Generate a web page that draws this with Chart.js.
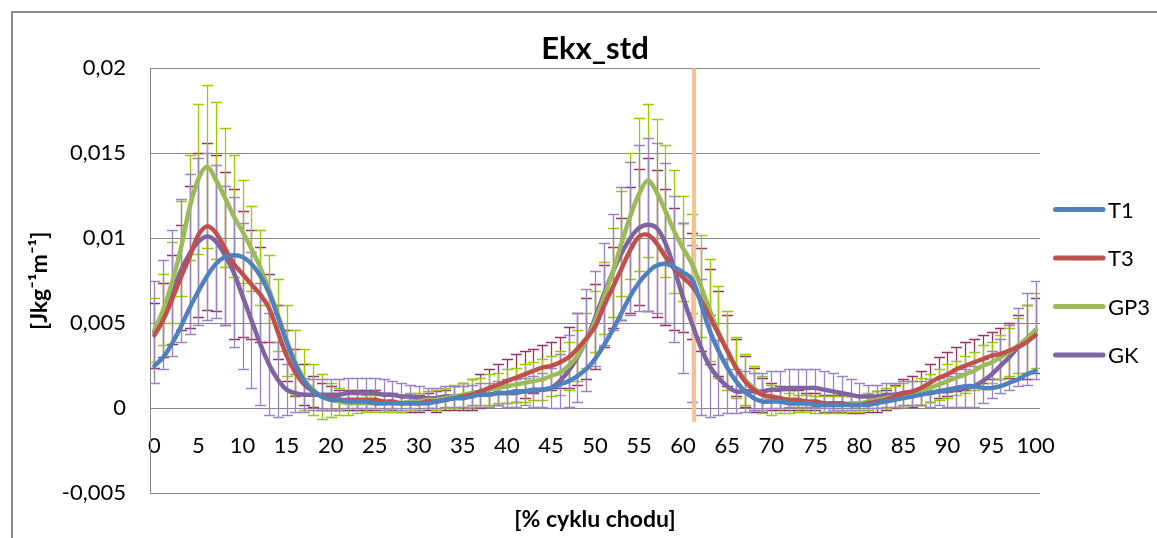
<!DOCTYPE html>
<html>
<head>
<meta charset="utf-8">
<script src="https://cdn.jsdelivr.net/npm/chart.js@4.4.0/dist/chart.umd.min.js"></script>
<style>
  html, body { margin: 0; padding: 0; background: #fff; overflow: hidden; }
  #wrap { position: relative; width: 1157px; height: 538px; overflow: hidden; }
  #frame { position: absolute; left: 11px; top: 11px; width: 1200px; height: 600px;
           border-left: 2px solid #8a8a8a; border-top: 2px solid #8a8a8a; }
  canvas { position: absolute; left: 0; top: 0; }
</style>
</head>
<body>
<div id="wrap"><div id="frame"></div><canvas id="chart" width="1157" height="538"></canvas></div>
<script>
// % of gait cycle, one point per percent
const categories = Array.from({ length: 101 }, (_, i) => i);
const xTicks = [0, 5, 10, 15, 20, 25, 30, 35, 40, 45, 50, 55, 60, 65, 70, 75, 80, 85, 90, 95, 100];
const yTicks = [-0.005, 0, 0.005, 0.01, 0.015, 0.02];

const t1 = [
  .0025, .0030, .0038, .0048, .0059, .0069, .0078, .0085, .0089, .0090,
  .0089, .0085, .0078, .0068, .0054, .0039, .0026, .0016, .0010, .0007,
  .0005, .0005, .0004, .0004, .0004, .0003, .0003, .0003, .0003, .0003,
  .0003, .0003, .0004, .0005, .0006, .0006, .0007, .0008, .0008, .0009,
  .0009, .0010, .0010, .0011, .0011, .0012, .0014, .0016, .0019, .0023,
  .0029, .0037, .0046, .0056, .0066, .0074, .0080, .0084, .0085, .0083,
  .0080, .0076, .0062, .0046, .0034, .0024, .0016, .0010, .0006, .0004,
  .0004, .0004, .0003, .0003, .0003, .0002, .0002, .0002, .0002, .0002,
  .0002, .0002, .0003, .0004, .0005, .0006, .0007, .0008, .0009, .0010,
  .0011, .0012, .0013, .0013, .0012, .0012, .0013, .0015, .0017, .0020,
  .0022
];
const t3 = [
  .0043, .0052, .0064, .0077, .0089, .0102, .0107, .0103, .0094, .0085,
  .0079, .0073, .0067, .0059, .0045, .0031, .0021, .0014, .0010, .0007,
  .0006, .0005, .0005, .0005, .0005, .0005, .0004, .0004, .0003, .0003,
  .0003, .0004, .0004, .0005, .0006, .0007, .0008, .0010, .0012, .0014,
  .0016, .0018, .0020, .0022, .0024, .0025, .0027, .0030, .0035, .0041,
  .0048, .0060, .0071, .0082, .0093, .0101, .0102, .0097, .0089, .0082,
  .0077, .0072, .0064, .0054, .0044, .0034, .0024, .0016, .0011, .0008,
  .0007, .0006, .0005, .0005, .0004, .0004, .0003, .0003, .0003, .0002,
  .0002, .0003, .0004, .0005, .0007, .0009, .0010, .0012, .0015, .0018,
  .0020, .0023, .0025, .0027, .0029, .0031, .0032, .0034, .0036, .0039,
  .0043
];
const gp3 = [
  .0046, .0058, .0074, .0094, .0118, .0135, .0142, .0134, .0124, .0113,
  .0104, .0094, .0083, .0070, .0055, .0040, .0027, .0017, .0011, .0007,
  .0005, .0004, .0003, .0003, .0003, .0003, .0003, .0003, .0003, .0004,
  .0004, .0005, .0005, .0006, .0007, .0008, .0009, .0010, .0011, .0012,
  .0013, .0014, .0015, .0016, .0017, .0019, .0021, .0025, .0031, .0040,
  .0051, .0065, .0080, .0097, .0113, .0126, .0134, .0127, .0116, .0104,
  .0094, .0085, .0072, .0058, .0045, .0034, .0024, .0017, .0012, .0008,
  .0005, .0004, .0003, .0003, .0003, .0002, .0002, .0002, .0002, .0003,
  .0003, .0004, .0005, .0006, .0007, .0008, .0009, .0010, .0012, .0014,
  .0016, .0018, .0020, .0022, .0025, .0027, .0030, .0033, .0037, .0041,
  .0046
];
const gk = [
  .0045, .0055, .0068, .0081, .0091, .0098, .0101, .0098, .0090, .0080,
  .0066, .0052, .0038, .0026, .0017, .0011, .0009, .0008, .0008, .0008,
  .0008, .0008, .0009, .0009, .0009, .0009, .0008, .0008, .0007, .0007,
  .0006, .0006, .0006, .0007, .0007, .0007, .0008, .0008, .0008, .0009,
  .0009, .0009, .0010, .0010, .0011, .0012, .0016, .0022, .0030, .0040,
  .0053, .0067, .0080, .0091, .0100, .0106, .0108, .0106, .0097, .0082,
  .0065, .0050, .0036, .0025, .0018, .0013, .0010, .0010, .0010, .0010,
  .0011, .0011, .0012, .0012, .0012, .0012, .0011, .0010, .0009, .0008,
  .0007, .0007, .0007, .0008, .0008, .0009, .0009, .0009, .0009, .0010,
  .0010, .0011, .0012, .0013, .0016, .0020, .0025, .0030, .0036, .0041,
  .0046
];

// standard deviations (error bars)
const t3Sd = [
  .0019, .0022, .0026, .0031, .0042, .0048, .0049, .0046, .0045, .0044,
  .0037, .0032, .0028, .0020, .0016, .0015, .0014, .0012, .0009, .0008,
  .0007, .0006, .0006, .0006, .0006, .0006, .0005, .0005, .0005, .0005,
  .0005, .0005, .0006, .0006, .0007, .0008, .0009, .0010, .0011, .0012,
  .0013, .0014, .0014, .0013, .0013, .0014, .0015, .0018, .0021, .0024,
  .0025, .0024, .0024, .0030, .0037, .0040, .0045, .0043, .0040, .0036,
  .0032, .0031, .0030, .0028, .0025, .0021, .0017, .0015, .0013, .0010,
  .0008, .0007, .0006, .0006, .0005, .0005, .0005, .0005, .0005, .0005,
  .0005, .0005, .0006, .0006, .0007, .0008, .0009, .0010, .0011, .0012,
  .0013, .0013, .0014, .0014, .0014, .0014, .0015, .0016, .0019, .0022,
  .0022
];
const gp3Sd = [
  .0019, .0021, .0024, .0028, .0031, .0044, .0048, .0046, .0041, .0036,
  .0030, .0025, .0022, .0020, .0021, .0021, .0019, .0018, .0015, .0013,
  .0010, .0008, .0007, .0006, .0005, .0005, .0005, .0005, .0005, .0005,
  .0005, .0005, .0006, .0006, .0007, .0007, .0008, .0008, .0009, .0009,
  .0010, .0010, .0011, .0011, .0012, .0012, .0013, .0014, .0015, .0016,
  .0018, .0021, .0026, .0031, .0037, .0045, .0045, .0043, .0039, .0036,
  .0031, .0029, .0030, .0030, .0027, .0023, .0018, .0015, .0013, .0011,
  .0009, .0007, .0006, .0005, .0005, .0005, .0005, .0005, .0005, .0005,
  .0005, .0005, .0005, .0006, .0006, .0007, .0007, .0008, .0008, .0009,
  .0010, .0010, .0011, .0011, .0012, .0012, .0013, .0014, .0016, .0020,
  .0022
];
const gkSd = [
  .0030, .0032, .0037, .0042, .0047, .0049, .0049, .0045, .0041, .0044,
  .0043, .0040, .0036, .0030, .0022, .0015, .0011, .0010, .0009, .0009,
  .0009, .0009, .0009, .0009, .0009, .0009, .0009, .0008, .0008, .0007,
  .0007, .0006, .0006, .0006, .0006, .0006, .0006, .0007, .0007, .0007,
  .0008, .0008, .0008, .0009, .0010, .0012, .0016, .0021, .0026, .0030,
  .0028, .0030, .0034, .0039, .0045, .0049, .0051, .0050, .0047, .0043,
  .0044, .0046, .0040, .0030, .0022, .0016, .0013, .0012, .0011, .0011,
  .0011, .0011, .0011, .0011, .0011, .0011, .0011, .0011, .0010, .0009,
  .0008, .0007, .0007, .0007, .0007, .0007, .0007, .0007, .0008, .0008,
  .0009, .0010, .0011, .0012, .0013, .0014, .0016, .0019, .0023, .0027,
  .0029
];

// vertical marker (toe-off)
const markerX = 61.25;
const markerY = [0.02, -0.0008];

const fmt = v => v === 0 ? '0' : String(+v.toFixed(4)).replace('.', ',');
const tickFont = { family: 'Lato', size: 22 };
const boldFont = { family: 'Lato', size: 23, weight: 'bold' };

const errorBars = {
  id: 'errorBars',
  beforeDatasetsDraw(chart) {
    const { ctx, chartArea, scales: { x, y } } = chart;
    ctx.save();
    ctx.beginPath();
    ctx.rect(chartArea.left, chartArea.top, chartArea.width, chartArea.height);
    ctx.clip();
    chart.data.datasets.forEach(ds => {
      if (!ds.sd) return;
      ctx.strokeStyle = ds.errColor;
      ctx.lineWidth = 1.3;
      ds.data.forEach((v, i) => {
        const px = Math.round(x.getPixelForValue(categories[i])) + 0.5;
        const top = Math.round(y.getPixelForValue(v + ds.sd[i])) + 0.5;
        const bot = Math.round(y.getPixelForValue(v - ds.sd[i])) + 0.5;
        ctx.beginPath();
        ctx.moveTo(px, top); ctx.lineTo(px, bot);
        ctx.moveTo(px - 5.5, top); ctx.lineTo(px + 5.5, top);
        ctx.moveTo(px - 5.5, bot); ctx.lineTo(px + 5.5, bot);
        ctx.stroke();
      });
    });
    ctx.restore();
  }
};

const sideLegend = {
  id: 'sideLegend',
  afterDraw(chart) {
    const { ctx, chartArea } = chart;
    const items = chart.data.datasets.filter(d => !d.noLegend);
    const gap = 48.5;
    const cy = (chartArea.top + chartArea.bottom) / 2 + 1.5;
    const x0 = chartArea.right + 13;
    ctx.save();
    ctx.font = '22px Lato';
    ctx.textBaseline = 'middle';
    items.forEach((d, i) => {
      const yy = cy + (i - (items.length - 1) / 2) * gap;
      ctx.strokeStyle = d.borderColor;
      ctx.lineWidth = 5;
      ctx.lineCap = 'round';
      ctx.beginPath();
      ctx.moveTo(x0 + 2.5, yy);
      ctx.lineTo(x0 + 50, yy);
      ctx.stroke();
      ctx.fillStyle = '#000';
      ctx.fillText(d.label, x0 + 55, yy + 1);
    });
    ctx.restore();
  }
};

const line = (label, data, color, sd, errColor) => ({
  label, data, sd, errColor,
  borderColor: color, backgroundColor: color,
  borderWidth: 4.5, pointRadius: 0, tension: 0.35,
  borderCapStyle: 'round', borderJoinStyle: 'round', order: 1
});

new Chart(document.getElementById('chart'), {
  type: 'line',
  data: {
    labels: categories,
    datasets: [
      line('T1', t1, '#4F81BD'),
      line('T3', t3, '#C0504D', t3Sd, '#993366'),
      line('GP3', gp3, '#9BBB59', gp3Sd, '#99CC00'),
      line('GK', gk, '#8064A2', gkSd, '#9A84C4'),
      {
        label: 'marker', noLegend: true,
        data: markerY.map(v => ({ x: markerX, y: v })),
        borderColor: '#FAC090', borderWidth: 4, pointRadius: 0, order: 5
      }
    ]
  },
  options: {
    responsive: false,
    animation: false,
    devicePixelRatio: 1,
    layout: { padding: { left: 0, right: 117, top: 0, bottom: 0 } },
    scales: {
      x: {
        type: 'linear', min: -0.5, max: 100.5,
        position: { y: 0 },
        afterBuildTicks: s => { s.ticks = xTicks.map(v => ({ value: v })); },
        afterFit: s => { s.height = 0; },
        grid: { display: false, drawTicks: false },
        border: { display: false },
        ticks: { padding: 24, autoSkip: false, maxRotation: 0, color: '#000', font: tickFont }
      },
      y: {
        min: -0.005, max: 0.02,
        afterBuildTicks: s => { s.ticks = yTicks.map(v => ({ value: v })); },
        afterFit: s => { s.width = 150; },
        grid: { color: '#868686', drawTicks: false },
        border: { display: true, color: '#868686' },
        ticks: { padding: 24, color: '#000', font: tickFont, callback: v => fmt(v) },
        title: {
          display: true, text: '[Jkg\u207B\u00B9m\u207B\u00B9]', color: '#000',
          font: boldFont, padding: { top: 26, bottom: 0 }
        }
      }
    },
    plugins: {
      legend: { display: false },
      tooltip: { enabled: false },
      title: {
        display: true, text: 'Ekx_std', fullSize: false, color: '#000',
        font: { family: 'Lato', size: 31, weight: 'bold', lineHeight: 1.2 },
        padding: { top: 30, bottom: 1 }
      },
      subtitle: {
        display: true, position: 'bottom', text: '[% cyklu chodu]', fullSize: false, color: '#000',
        font: { family: 'Lato', size: 23, weight: 'bold', lineHeight: 1.2 },
        padding: { top: 12, bottom: 5 }
      }
    }
  },
  plugins: [errorBars, sideLegend]
});
</script>
</body>
</html>
